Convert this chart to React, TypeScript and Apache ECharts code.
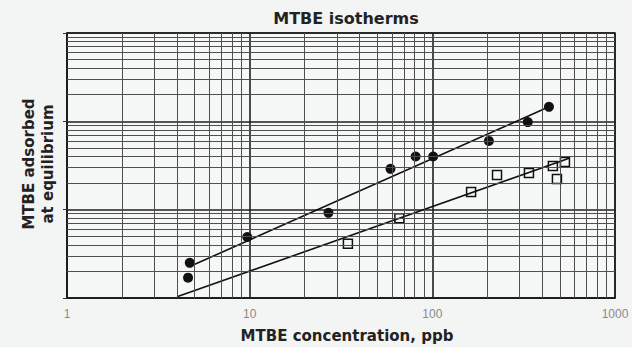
import React, { useEffect, useRef } from "react";
import * as echarts from "echarts";

const titleText = "MTBE isotherms";
const xName = "MTBE concentration, ppb";
const yName = "MTBE adsorbed\nat equilibrium";
const xTickLabels = ["1", "10", "100", "1000"];

// filled circles
const circleX = [4.6, 4.7, 9.7, 27, 59, 81, 101, 204, 333, 435];
const circleY = [1.7, 2.5, 4.9, 9.2, 29, 40, 40, 60, 98, 146];
// open squares
const squareX = [34.5, 66, 163, 226, 338, 481, 457, 532];
const squareY = [4.1, 8.0, 15.9, 24.7, 26.0, 22.3, 31.3, 34.7];
// fitted lines (endpoints)
const circleFitX = [4.9, 435];
const circleFitY = [2.36, 146];
const squareFitX = [4.0, 566];
const squareFitY = [1.03, 38.5];

const minorValues = [2, 3, 4, 5, 6, 7, 8, 9, 20, 30, 40, 50, 60, 70, 80, 90, 200, 300, 400, 500, 600, 700, 800, 900];

export default function App() {
  const ref = useRef<HTMLDivElement>(null);
  useEffect(() => {
    if (!ref.current) return;
    const chart = echarts.init(ref.current, undefined, { renderer: "svg" });
    const font = "'DejaVu Sans', 'Liberation Sans', Arial, sans-serif";
    const zip = (xs: number[], ys: number[]) => xs.map((x, i) => [x, ys[i]]);
    chart.setOption({
      animation: false,
      backgroundColor: "#f3f4f4",
      grid: { left: 67, right: 17, top: 33, bottom: 49, show: true, backgroundColor: "#f6f7f7", borderColor: "#1a1a1a", borderWidth: 1.5 },
      xAxis: {
        type: "log",
        logBase: 10,
        min: 1,
        max: 1000,
        axisLine: { show: true, lineStyle: { color: "#1a1a1a", width: 1.5 } },
        axisTick: { show: false },
        axisLabel: {
          color: "#8a8a8a",
          fontSize: 12,
          fontFamily: "'Liberation Sans', Arial, sans-serif",
          margin: 10,
          formatter: (v: number) => xTickLabels[Math.round(Math.log10(v))] ?? "",
        },
        splitLine: { show: true, lineStyle: { color: "#1f1f1f", width: 1.6 } },
      },
      yAxis: {
        type: "log",
        logBase: 10,
        min: 1,
        max: 1000,
        axisLine: { show: true, lineStyle: { color: "#1a1a1a", width: 1.5 } },
        axisTick: { show: true, length: 4, lineStyle: { color: "#333" } },
        axisLabel: { show: false },
        splitLine: { show: true, lineStyle: { color: "#1f1f1f", width: 1.6 } },
      },
      graphic: [
        {
          type: "text",
          x: 346,
          y: 18,
          style: { text: titleText, font: `bold 16px ${font}`, fill: "#222", align: "center", verticalAlign: "middle" },
        },
        {
          type: "text",
          x: 347,
          y: 336,
          style: { text: xName, font: `bold 15px ${font}`, fill: "#222", align: "center", verticalAlign: "middle" },
        },
        {
          type: "text",
          x: 38,
          y: 164,
          rotation: Math.PI / 2,
          style: { text: yName, font: `bold 15px ${font}`, lineHeight: 19, fill: "#222", align: "center", verticalAlign: "middle" },
        },
      ],
      series: [
        {
          type: "line",
          data: [],
          silent: true,
          markLine: {
            silent: true,
            symbol: "none",
            label: { show: false },
            lineStyle: { color: "#4f4f4f", width: 1, type: "solid" },
            data: [
              ...minorValues.map((v) => ({ xAxis: v })),
              ...minorValues.map((v) => ({ yAxis: v })),
            ],
          },
        },
        {
          type: "line",
          data: zip(circleFitX, circleFitY),
          showSymbol: false,
          lineStyle: { color: "#111", width: 1.6 },
          silent: true,
        },
        {
          type: "line",
          data: zip(squareFitX, squareFitY),
          showSymbol: false,
          lineStyle: { color: "#111", width: 1.6 },
          silent: true,
        },
        {
          type: "scatter",
          data: zip(circleX, circleY),
          symbol: "circle",
          symbolSize: 10,
          itemStyle: { color: "#111", opacity: 1 },
        },
        {
          type: "scatter",
          data: zip(squareX, squareY),
          symbol: "rect",
          symbolSize: 9,
          itemStyle: { color: "#f6f7f7", borderColor: "#111", borderWidth: 1.5, opacity: 1 },
        },
      ],
    });
    return () => chart.dispose();
  }, []);
  return <div ref={ref} style={{ position: "absolute", left: 0, top: 0, width: 632, height: 347 }} />;
}
